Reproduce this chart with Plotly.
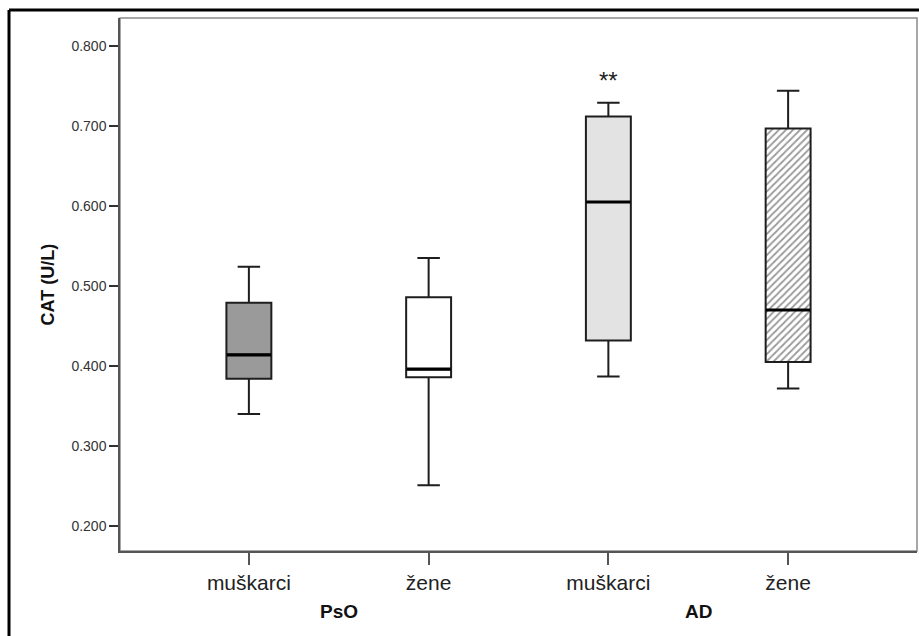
import plotly.graph_objects as go

# ---- data ----
sub_labels = ["muškarci", "žene", "muškarci", "žene"]
group_labels = ["PsO", "AD"]
positions = [0, 1, 2, 3]
lower = [0.340, 0.251, 0.387, 0.372]
q1 = [0.384, 0.386, 0.432, 0.405]
median = [0.414, 0.396, 0.605, 0.470]
q3 = [0.479, 0.486, 0.712, 0.697]
upper = [0.524, 0.535, 0.729, 0.744]
y_ticks = [0.2, 0.3, 0.4, 0.5, 0.6, 0.7, 0.8]
significance = ["", "", "**", ""]

fills = ["#9a9a9a", "#ffffff", "#e3e3e3", "rgba(0,0,0,0)"]
hatched = [False, False, False, True]

W, H = 919, 636
L, R, T, B = 120, 2, 18, 85
PW, PH = W - L - R, H - T - B

fig = go.Figure()

# hatched fill underneath (bar layer is below box layer)
for i in range(4):
    if hatched[i]:
        fig.add_trace(go.Bar(
            x=[positions[i]], base=[q1[i]], y=[q3[i] - q1[i]], width=0.25,
            marker=dict(color="white", line=dict(width=0),
                        pattern=dict(shape="/", fgcolor="#333333", bgcolor="white",
                                     size=5, solidity=0.35)),
            showlegend=False, hoverinfo="skip"))

for i in range(4):
    fig.add_trace(go.Box(
        x=[positions[i]], q1=[q1[i]], median=[median[i]], q3=[q3[i]],
        lowerfence=[lower[i]], upperfence=[upper[i]],
        width=0.25, whiskerwidth=0.5, boxpoints=False,
        fillcolor=fills[i], line=dict(color="#1e1e1e", width=2),
        showlegend=False))

# thicker median lines (line-ew length = 1.4 * size)
fig.add_trace(go.Scatter(
    x=positions, y=median, mode="markers",
    marker=dict(symbol="line-ew", size=31.5, line=dict(color="black", width=3.2)),
    showlegend=False, hoverinfo="skip"))

# significance marks
for i in range(4):
    if significance[i]:
        fig.add_annotation(x=positions[i], y=upper[i], xref="x", yref="y",
                           text=significance[i], showarrow=False, yanchor="middle",
                           yshift=22, font=dict(family="Liberation Sans", size=24, color="#222"))

# group labels
for g, name in enumerate(group_labels):
    fig.add_annotation(x=(positions[2 * g] + positions[2 * g + 1]) / 2, y=0,
                       xref="x", yref="paper", text="<b>%s</b>" % name, showarrow=False,
                       yanchor="middle", yshift=-60,
                       font=dict(family="Liberation Sans", size=19, color="#111"))

# y title
fig.add_annotation(x=0, y=0.5, xref="paper", yref="paper", text="<b>CAT (U/L)</b>",
                   textangle=-90, showarrow=False, xanchor="center", yanchor="middle",
                   xshift=-73, font=dict(family="Liberation Sans", size=18, color="#111"))

# outer frame (top and left edges)
def px_x(p):
    return (p - L) / PW

def px_y(p):
    return (H - B - p) / PH

fig.add_shape(type="line", xref="paper", yref="paper", x0=px_x(9), x1=px_x(919),
              y0=px_y(10), y1=px_y(10), line=dict(color="black", width=3))
fig.add_shape(type="line", xref="paper", yref="paper", x0=px_x(9), x1=px_x(9),
              y0=px_y(10), y1=px_y(640), line=dict(color="black", width=3))
# plot frame
fig.add_shape(type="rect", xref="paper", yref="paper", x0=0, x1=1, y0=0, y1=1,
              line=dict(color="#8a8a8a", width=1.5), layer="below")

fig.update_layout(
    width=W, height=H, margin=dict(l=L, r=R, t=T, b=B),
    paper_bgcolor="white", plot_bgcolor="white",
    showlegend=False, barmode="overlay",
    xaxis=dict(range=[-0.717, 3.717], tickmode="array", tickvals=positions,
               ticktext=sub_labels, ticks="outside", ticklen=12, tickwidth=1.5,
               tickcolor="#555", showline=True, linecolor="#555", linewidth=1.5,
               showgrid=False, zeroline=False,
               tickfont=dict(family="Liberation Sans", size=21, color="#222")),
    yaxis=dict(range=[0.16875, 0.835], tickmode="array", tickvals=y_ticks,
               tickformat=".3f", ticks="outside", ticklen=9, tickwidth=1.5,
               tickcolor="#333", showline=True, linecolor="#555", linewidth=1.5,
               showgrid=False, zeroline=False,
               tickfont=dict(family="Liberation Sans", size=14, color="#333")),
)

fig.write_html("out.html")
